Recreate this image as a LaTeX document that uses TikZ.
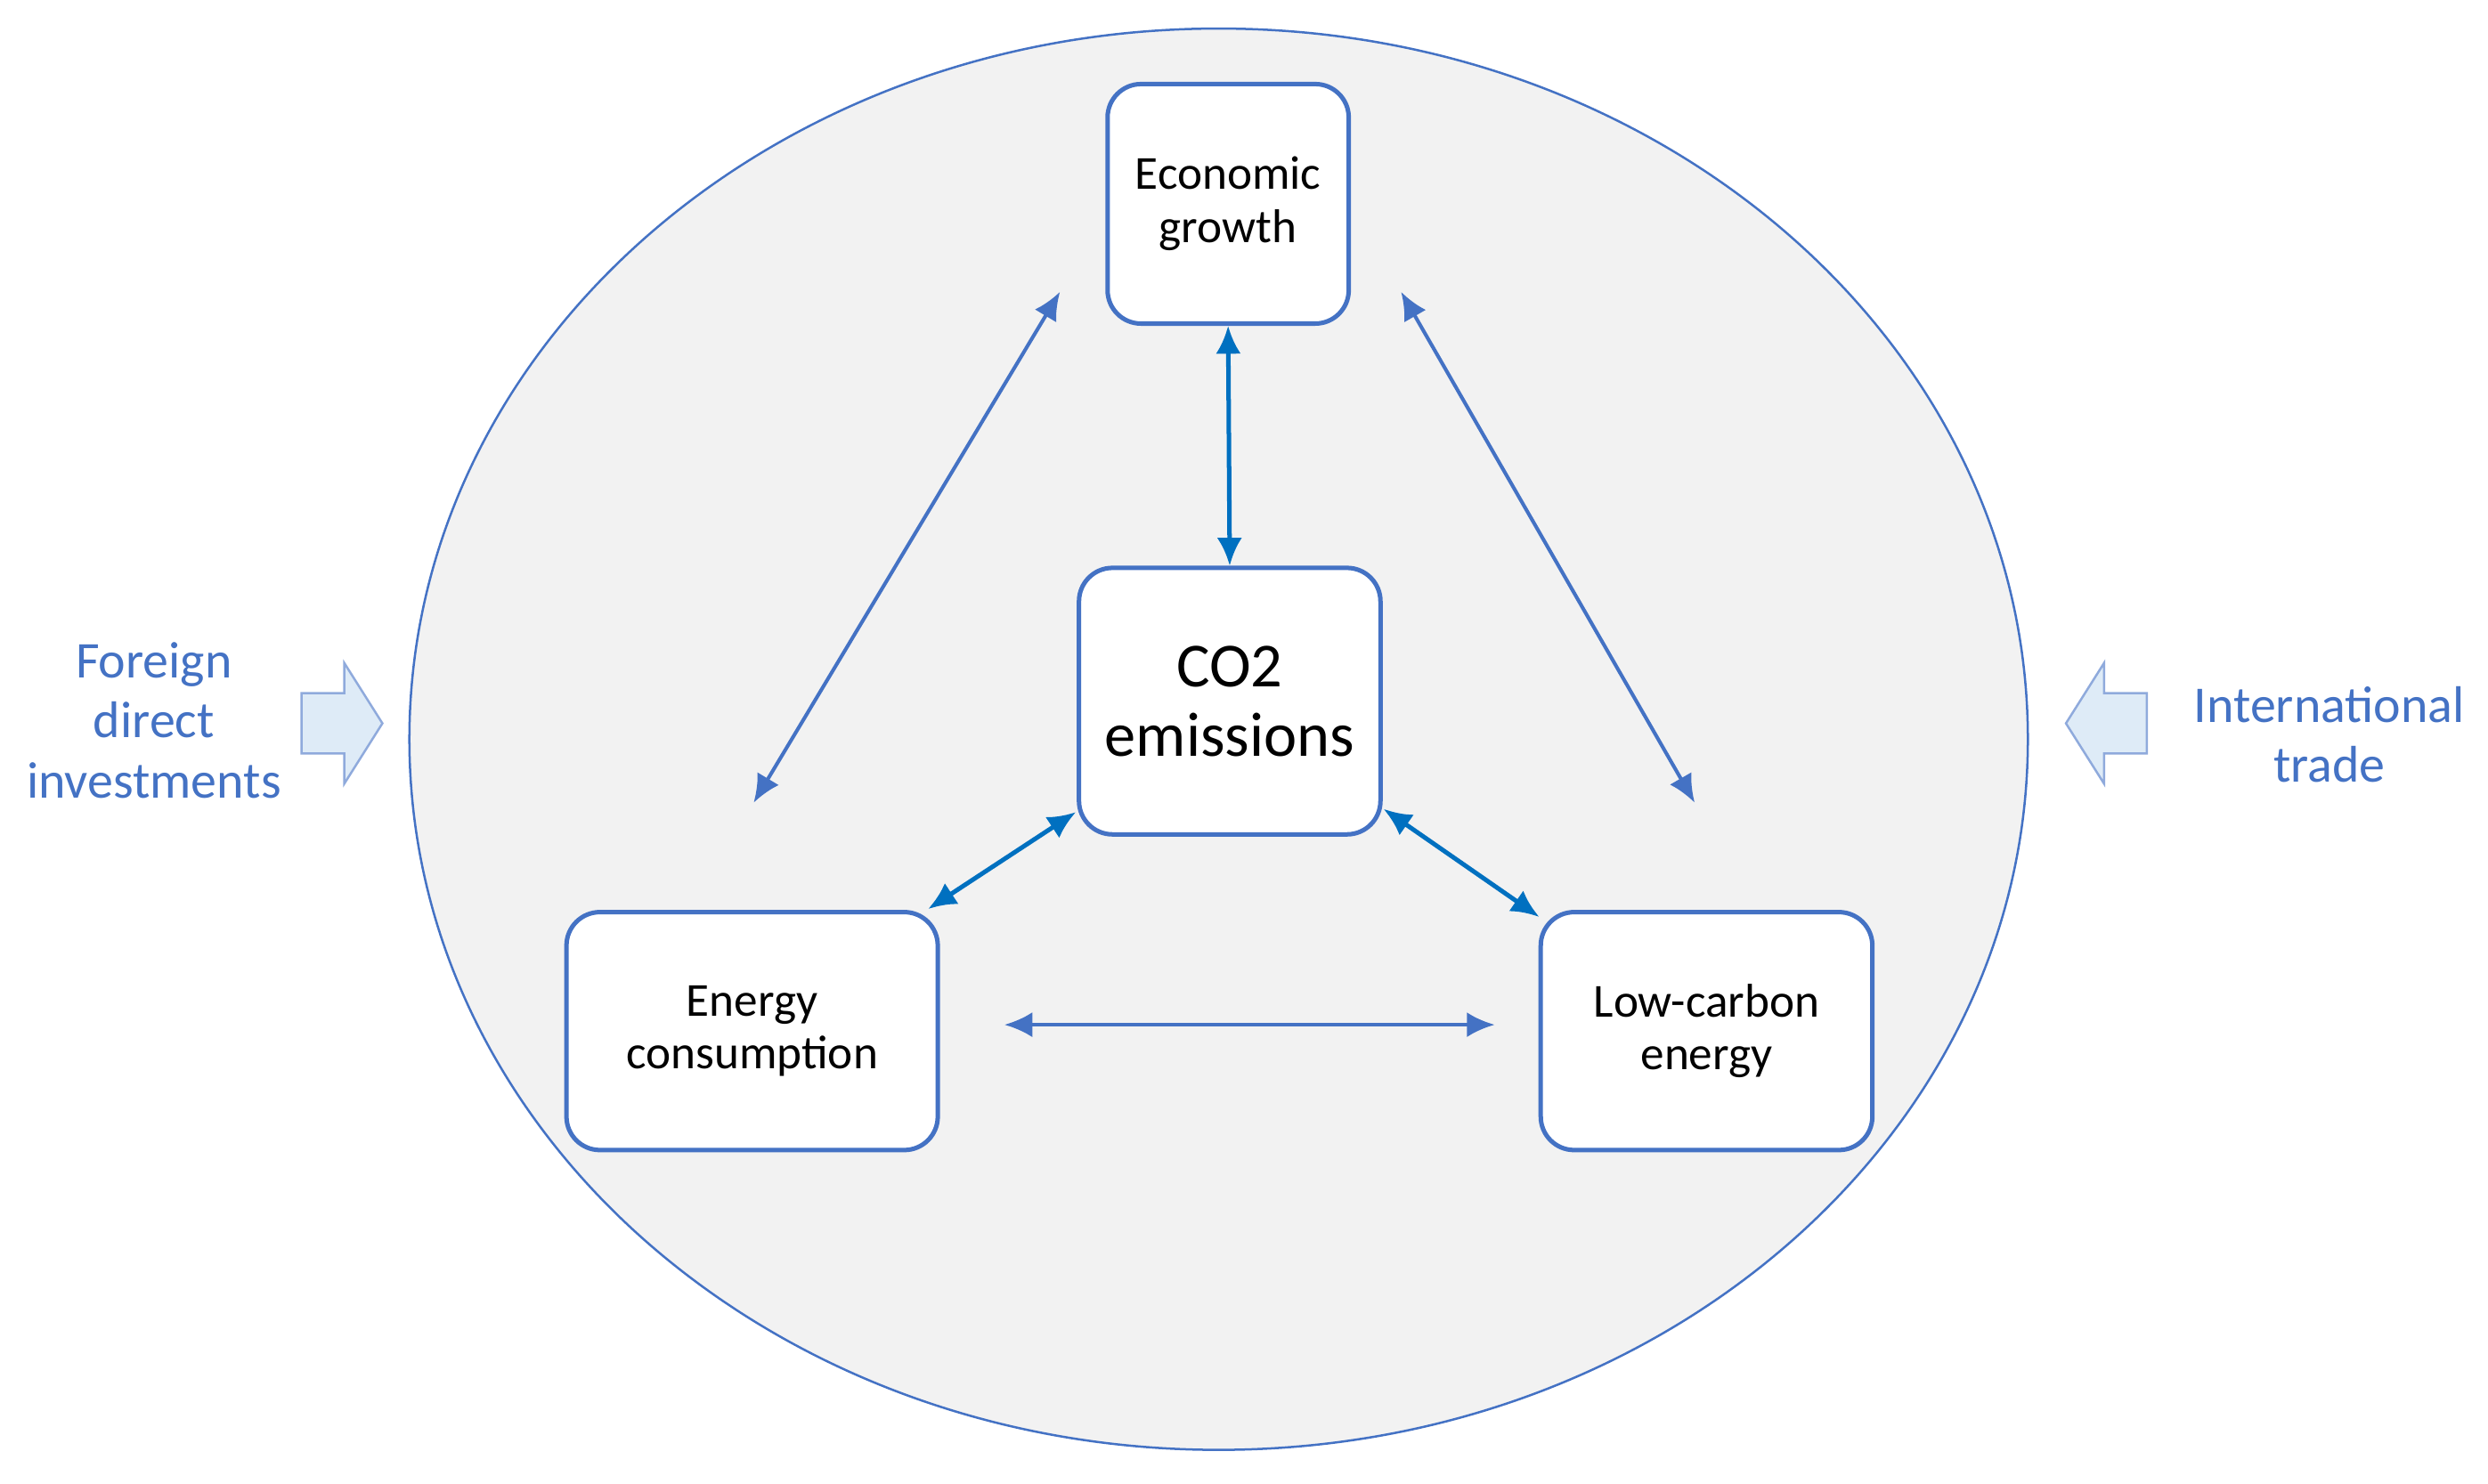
\documentclass[tikz,border=0pt]{standalone}
\usepackage{fontspec}
\setmainfont{Carlito}
\usetikzlibrary{arrows.meta,shapes.arrows}
\definecolor{bl}{HTML}{4472C4}
\definecolor{dk}{HTML}{0070C0}
\definecolor{gr}{HTML}{F2F2F2}
\definecolor{lb}{HTML}{DEEBF7}
\tikzset{
 box/.style={draw=bl,line width=1.6pt,fill=white,rounded corners=12pt,align=center,font=\fontsize{17}{19}\selectfont},
 dar/.style={draw=dk,line width=1.6pt,{Latex[length=10pt,width=9pt]}-{Latex[length=10pt,width=9pt]}},
 lar/.style={draw=bl,line width=1.3pt,{Latex[length=10pt,width=9pt]}-{Latex[length=10pt,width=9pt]}},
 lab/.style={text=bl,align=center,font=\fontsize{18.5}{21.6}\selectfont},
 blk/.style={draw=bl!60,fill=lb,line width=0.8pt}
}
\begin{document}
\begin{tikzpicture}[x=0.02cm,y=-0.02cm]
\useasboundingbox (0,0) rectangle (1568,935);
\draw[bl,fill=gr,line width=0.8pt] (768,466) ellipse [x radius=510,y radius=448];
\node[box,minimum width=152*0.02cm,minimum height=151*0.02cm] (eg) at (774,128.5) {Economic\\growth};
\node[box,minimum width=190*0.02cm,minimum height=168*0.02cm,font=\fontsize{22.5}{25}\selectfont] (co) at (775,442) {CO2\\emissions};
\node[box,minimum width=234*0.02cm,minimum height=150*0.02cm] (ec) at (474,650) {Energy\\consumption};
\node[box,minimum width=209*0.02cm,minimum height=150*0.02cm] (lc) at (1075.5,650) {Low-carbon\\energy};
\coordinate (d1) at (678,512); \coordinate (d2) at (585,573);
\coordinate (e1) at (872,510); \coordinate (e2) at (970,578);
\draw[dar] (eg.south) -- (co.north);
\draw[dar] (d1) -- (d2);
\draw[dar] (e1) -- (e2);
\coordinate (a1) at (668,184); \coordinate (a2) at (475,506);
\coordinate (b1) at (883,184); \coordinate (b2) at (1068,506);
\coordinate (c1) at (633,646); \coordinate (c2) at (942,646);
\draw[lar] (a1) -- (a2);
\draw[lar] (b1) -- (b2);
\draw[lar] (c1) -- (c2);
\draw[blk] (190,437) -- (217,437) -- (217,418) -- (241,456) -- (217,494) -- (217,475) -- (190,475) -- cycle;
\draw[blk] (1353,437) -- (1326,437) -- (1326,418) -- (1302,456) -- (1326,494) -- (1326,475) -- (1353,475) -- cycle;
\node[lab] (fdi) at (97,454) {Foreign\\direct\\investments};
\node[lab] (it) at (1468,463) {International\\trade};
\end{tikzpicture}
\end{document}
